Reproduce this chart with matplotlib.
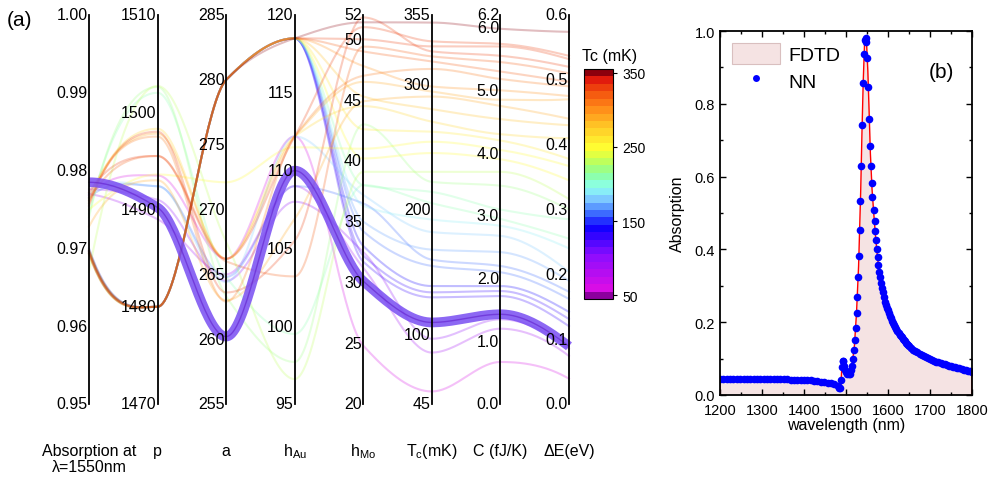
import numpy as np
import matplotlib
matplotlib.use('Agg')
import matplotlib.pyplot as plt
from matplotlib.colors import LinearSegmentedColormap, Normalize
from matplotlib.cm import ScalarMappable
from matplotlib.patches import Patch
from matplotlib.lines import Line2D

plt.rcParams['font.family'] = ['Liberation Sans', 'DejaVu Sans']
plt.rcParams['mathtext.fontset'] = 'custom'
plt.rcParams['mathtext.rm'] = 'Liberation Sans'
plt.rcParams['mathtext.it'] = 'Liberation Sans:italic'

# ---- (a) parallel axes ----
axis_lo = [0.95, 1470, 255, 95, 20, 45, 0.0, 0.0]
axis_hi = [1.00, 1510, 285, 120, 52, 355, 6.2, 0.6]
axis_ticks = [[0.95, 0.96, 0.97, 0.98, 0.99, 1.00],
              [1470, 1480, 1490, 1500, 1510],
              [255, 260, 265, 270, 275, 280, 285],
              [95, 100, 105, 110, 115, 120],
              [20, 25, 30, 35, 40, 45, 50, 52],
              [45, 100, 200, 300, 355],
              [0.0, 1.0, 2.0, 3.0, 4.0, 5.0, 6.0, 6.2],
              [0.0, 0.1, 0.2, 0.3, 0.4, 0.5, 0.6]]
axis_fmt = ['%.2f', '%d', '%d', '%d', '%d', '%d', '%.1f', '%.1f']
axis_names = ['Absorption at\nλ=1550nm', 'p', 'a', 'h$_{\\mathrm{Au}}$', 'h$_{\\mathrm{Mo}}$',
              'T$_{\\mathrm{c}}$(mK)', 'C (fJ/K)', 'ΔE(eV)']

# one entry per design
absorption = [0.9697, 0.9695, 0.9693, 0.9698, 0.9694, 0.9696, 0.9692, 0.9699, 0.9694, 0.9697,
              0.9693, 0.9696, 0.9700, 0.9695, 0.9772, 0.9765, 0.9760, 0.9768, 0.9770, 0.9776,
              0.9770, 0.9750, 0.9670, 0.9740, 0.9745, 0.9755, 0.9762, 0.9758, 0.9765, 0.9728]
period_p = [1480, 1480, 1480, 1480, 1480, 1480, 1480, 1480, 1480, 1480,
            1480, 1480, 1480, 1480, 1495.5, 1497.8, 1498.3, 1493.5, 1492.4, 1491.0,
            1489.0, 1493.6, 1502.7, 1502.6, 1502.0, 1498.0, 1495.5, 1497.5, 1492.4, 1493.0]
size_a = [280, 280, 280, 280, 280, 280, 280, 280, 280, 280,
          280, 280, 280, 280, 266.2, 266.2, 266.2, 266.2, 264.4, 264.5,
          265.0, 272.1, 267.5, 263.3, 264.8, 263.6, 266.0, 262.9, 264.8, 263.0]
h_au = [118.5, 118.5, 118.5, 118.5, 118.5, 118.5, 118.5, 118.5, 118.5, 118.5,
        118.5, 118.5, 118.5, 118.5, 112.2, 112.2, 112.2, 112.2, 112.2, 108.0,
        109.0, 111.5, 96.6, 97.7, 99.5, 105.5, 103.2, 112.2, 109.0, 106.9]
h_mo = [51.4, 50.0, 49.0, 47.8, 45.3, 42.6, 40.2, 38.0, 36.3, 35.0,
        34.2, 33.0, 32.2, 31.7, 51.0, 46.5, 44.5, 24.8, 37.2, 32.5,
        31.2, 41.0, 39.1, 43.0, 38.0, 51.8, 49.4, 47.0, 36.5, 44.9]
t_c = [349, 330, 318, 298, 280, 262, 245, 214, 192, 168,
       155, 139, 134, 130, 334, 294, 270, 55, 182, 97,
       86, 254, 230, 222, 205, 326, 322, 312, 160, 290]
heat_c = [5.98, 5.70, 5.30, 5.00, 4.54, 4.20, 3.90, 3.10, 2.84, 2.42,
          2.10, 1.88, 1.80, 1.72, 5.74, 4.85, 4.30, 0.67, 2.68, 1.35,
          1.20, 4.05, 3.70, 3.48, 2.95, 5.55, 5.45, 5.18, 2.20, 4.75]
delta_e = [0.574, 0.532, 0.497, 0.475, 0.430, 0.378, 0.345, 0.285, 0.240, 0.190,
           0.162, 0.142, 0.131, 0.120, 0.537, 0.470, 0.410, 0.039, 0.204, 0.085,
           0.074, 0.367, 0.316, 0.300, 0.255, 0.520, 0.510, 0.490, 0.173, 0.440]

best = [0.9785, 1490.2, 260.2, 110.0, 30.1, 110, 1.43, 0.089]

# ---- (b) spectrum ----
nn_wl = [1200, 1208, 1216, 1224, 1232, 1240, 1248, 1256, 1264, 1272, 1280, 1288, 1296, 1304,
         1312, 1320, 1328, 1336, 1344, 1352, 1360, 1368, 1376, 1384, 1392, 1400, 1408, 1416,
         1424, 1432, 1440, 1448, 1456, 1464, 1472, 1480, 1484, 1486,
         1489, 1490.5, 1492, 1494, 1496, 1498, 1500, 1503, 1506, 1509, 1512, 1514, 1517, 1519,
         1521, 1523, 1525, 1527, 1529, 1531, 1532.5, 1534.5, 1536, 1538.5, 1541, 1543, 1545.5,
         1547, 1548.5, 1551, 1553.5, 1555.5, 1557.5, 1559, 1561, 1563, 1565.5, 1568, 1569.5,
         1571, 1573, 1575, 1577, 1579, 1580.5, 1583, 1585, 1588, 1590, 1593, 1596, 1598,
         1600, 1602.5, 1605, 1607.5, 1610, 1612.5, 1615, 1617.5, 1620, 1622.5, 1625, 1627.5,
         1630, 1632.5, 1635, 1637.5, 1640, 1642.5, 1645, 1647.5, 1650, 1655, 1660, 1665,
         1670, 1675, 1680, 1685, 1690, 1695, 1700, 1705, 1710, 1715, 1720, 1725, 1730, 1735,
         1740, 1745, 1750, 1755, 1760, 1765, 1770, 1775, 1780, 1785, 1790, 1795, 1800]
nn_abs = [0.044, 0.044, 0.044, 0.044, 0.044, 0.044, 0.044, 0.044, 0.044, 0.044, 0.044, 0.044,
          0.043, 0.043, 0.043, 0.043, 0.043, 0.043, 0.043, 0.043, 0.043, 0.042, 0.042, 0.042,
          0.042, 0.041, 0.041, 0.040, 0.039, 0.038, 0.037, 0.036, 0.034, 0.032, 0.029, 0.024,
          0.020, 0.019,
          0.041, 0.078, 0.094, 0.093, 0.080, 0.068, 0.062, 0.058, 0.057, 0.059, 0.068, 0.080,
          0.099, 0.124, 0.151, 0.184, 0.224, 0.270, 0.323, 0.382, 0.453, 0.532, 0.628, 0.742,
          0.857, 0.938, 0.976, 0.980, 0.971, 0.925, 0.847, 0.759, 0.684, 0.628, 0.582, 0.544,
          0.509, 0.478, 0.450, 0.425, 0.401, 0.378, 0.358, 0.339, 0.325, 0.309, 0.295, 0.282,
          0.268, 0.256, 0.246, 0.240,
          0.234, 0.226, 0.218, 0.211, 0.204, 0.198, 0.192, 0.186, 0.181, 0.176, 0.171, 0.166,
          0.162, 0.158, 0.154, 0.150, 0.147, 0.144, 0.141, 0.138, 0.135, 0.130, 0.125, 0.121,
          0.117, 0.114, 0.111, 0.108, 0.105, 0.102, 0.099, 0.097, 0.094, 0.092, 0.090, 0.088,
          0.086, 0.084, 0.082, 0.080, 0.079, 0.077, 0.076, 0.074, 0.073, 0.071, 0.070, 0.068,
          0.067, 0.066, 0.064]
fdtd_wl = [1200, 1250, 1300, 1350, 1400, 1440, 1470, 1480, 1486, 1488, 1490, 1492, 1495, 1500,
           1505, 1510, 1515, 1520, 1525, 1530, 1535, 1538, 1541, 1544, 1546.5, 1549, 1552, 1555,
           1558, 1562, 1566, 1570, 1575, 1580, 1590, 1600, 1620, 1650, 1680, 1700, 1730, 1760,
           1770, 1775, 1780, 1785, 1790, 1800]
fdtd_abs = [0.044, 0.044, 0.043, 0.042, 0.041, 0.037, 0.030, 0.024, 0.019, 0.030, 0.075, 0.095,
            0.085, 0.063, 0.057, 0.062, 0.088, 0.135, 0.225, 0.355, 0.560, 0.720, 0.860, 0.960,
            0.985, 0.965, 0.890, 0.780, 0.665, 0.565, 0.500, 0.440, 0.378, 0.330, 0.268, 0.232,
            0.181, 0.135, 0.111, 0.099, 0.086, 0.076, 0.072, 0.066, 0.060, 0.071, 0.067, 0.064]


def pchip(y, n=40):
    # shape preserving cubic through the axis points (unit spacing)
    y = np.asarray(y, float)
    d = np.diff(y)
    m = np.zeros_like(y)
    for k in range(1, len(y) - 1):
        if d[k - 1] * d[k] > 0:
            m[k] = 2.0 / (1.0 / d[k - 1] + 1.0 / d[k])
    m[0] = (3 * d[0] - d[1]) / 2
    if np.sign(m[0]) != np.sign(d[0]):
        m[0] = 0
    m[-1] = (3 * d[-1] - d[-2]) / 2
    if np.sign(m[-1]) != np.sign(d[-1]):
        m[-1] = 0
    t = np.linspace(0, 1, n)
    h00 = 2 * t**3 - 3 * t**2 + 1
    h10 = t**3 - 2 * t**2 + t
    h01 = -2 * t**3 + 3 * t**2
    h11 = t**3 - t**2
    xs, ys = [], []
    for k in range(len(y) - 1):
        xs.append(k + t)
        ys.append(h00 * y[k] + h10 * m[k] + h01 * y[k + 1] + h11 * m[k + 1])
    return np.concatenate(xs), np.concatenate(ys)


def norm_row(row):
    return [(v - lo) / (hi - lo) for v, lo, hi in zip(row, axis_lo, axis_hi)]


stops = [(45, (0.55, 0.0, 0.62)), (55, (0.85, 0.05, 0.9)), (100, (0.55, 0.05, 1.0)),
         (140, (0.05, 0.0, 1.0)), (160, (0.25, 0.45, 1.0)), (180, (0.5, 0.8, 1.0)),
         (195, (0.55, 1.0, 0.95)), (215, (0.55, 1.0, 0.6)), (235, (0.8, 1.0, 0.3)),
         (250, (1.0, 1.0, 0.2)), (280, (1.0, 0.78, 0.15)), (305, (1.0, 0.55, 0.1)),
         (330, (0.95, 0.3, 0.05)), (345, (0.88, 0.1, 0.05)), (355, (0.55, 0.0, 0.05))]
cmap = LinearSegmentedColormap.from_list('tc', [((v - 45) / 310, c) for v, c in stops]).resampled(31)
cnorm = Normalize(45, 355)

fig = plt.figure(figsize=(9.9, 4.85), dpi=100)
ax = fig.add_axes([89 / 990, 80 / 485, 480 / 990, 389 / 485])
ax.set_xlim(0, 7)
ax.set_ylim(0, 1)
ax.axis('off')

rows = list(zip(absorption, period_p, size_a, h_au, h_mo, t_c, heat_c, delta_e))
for row in sorted(rows, key=lambda r: r[5]):
    xs, ys = pchip(norm_row(row))
    ax.plot(xs, ys, color=cmap(cnorm(row[5])), lw=1.5, alpha=0.26, clip_on=False)

xs, ys = pchip(norm_row(best))
ax.plot(xs, ys, color=(0.47, 0.3, 0.95), lw=7, alpha=0.85, clip_on=False, solid_capstyle='butt')
ax.plot(xs, ys, color=(0.38, 0.12, 0.8), lw=1, alpha=0.6, clip_on=False)

for i in range(8):
    ax.plot([i, i], [0, 1], color='black', lw=1.3, clip_on=False, zorder=5)
    for tv in axis_ticks[i]:
        ax.text(i - 0.02, (tv - axis_lo[i]) / (axis_hi[i] - axis_lo[i]), axis_fmt[i] % tv,
                ha='right', va='center', fontsize=11.5, zorder=6)
    if i == 0:
        ax.text(i, -0.1, axis_names[i], ha='center', va='top', fontsize=11.5, linespacing=1.1)
    else:
        ax.text(i, -0.12, axis_names[i], ha='center', va='center', fontsize=11.5)
fig.text(20 / 990, 1 - 20 / 485, '(a)', ha='center', va='center', fontsize=15)

cax = fig.add_axes([584 / 990, 1 - 300 / 485, 29 / 990, 230 / 485])
cb = fig.colorbar(ScalarMappable(norm=cnorm, cmap=cmap), cax=cax, ticks=[50, 150, 250, 350])
cb.outline.set_linewidth(0.8)
cax.tick_params(labelsize=10, length=3, width=0.8)
fig.text(610 / 990, 1 - 56 / 485, 'Tc (mK)', ha='center', va='center', fontsize=11.5)

# ---- (b) ----
ax2 = fig.add_axes([720 / 990, 89 / 485, 252 / 990, 364 / 485])
ax2.fill_between(fdtd_wl, 0, fdtd_abs, color=(0.96, 0.89, 0.89), lw=0)
ax2.plot([fdtd_wl[0]] + fdtd_wl + [fdtd_wl[-1]], [0] + fdtd_abs + [0], color='red', lw=1)
ax2.plot(nn_wl, nn_abs, 'o', color='blue', ms=5.5, mew=0)
ax2.set_xlim(1200, 1800)
ax2.set_ylim(0, 1.0)
ax2.set_xticks([1200, 1300, 1400, 1500, 1600, 1700, 1800])
ax2.set_xticks(np.arange(1250, 1800, 100), minor=True)
ax2.set_yticks([0.0, 0.2, 0.4, 0.6, 0.8, 1.0])
ax2.set_yticks([0.1, 0.3, 0.5, 0.7, 0.9], minor=True)
ax2.yaxis.set_major_formatter(plt.FormatStrFormatter('%.1f'))
ax2.tick_params(which='both', direction='in', top=True, right=True, labelsize=10.5, width=1)
ax2.tick_params(which='major', length=4)
ax2.tick_params(which='minor', length=2.5)
ax2.tick_params(axis='x', pad=6)
for s in ax2.spines.values():
    s.set_linewidth(1.3)
ax2.set_xlabel('wavelength (nm)', fontsize=11.5, labelpad=0)
ax2.set_ylabel('Absorption', fontsize=11.5, labelpad=7)
handles = [Patch(facecolor=(0.96, 0.89, 0.89), edgecolor=(0.85, 0.75, 0.75), lw=0.8),
           Line2D([], [], marker='o', ls='none', color='blue', ms=5, mew=0)]
ax2.legend(handles, ['FDTD', 'NN'], loc='upper left', frameon=False, fontsize=14,
           handlelength=2.5, handleheight=1.3, borderaxespad=0.2, labelspacing=0.3,
           handletextpad=0.4)
ax2.text(0.88, 0.89, '(b)', transform=ax2.transAxes, ha='center', va='center', fontsize=15)

fig.savefig('out.png', dpi=100)
